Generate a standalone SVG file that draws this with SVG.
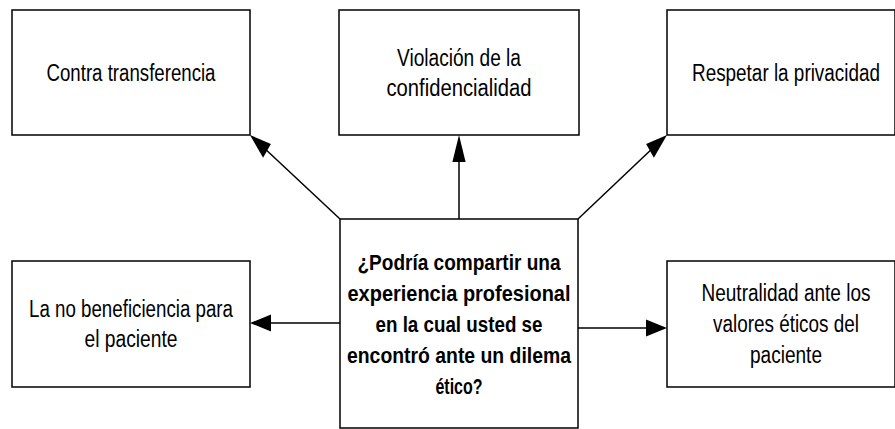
<svg xmlns="http://www.w3.org/2000/svg" width="895" height="429" viewBox="0 0 895 429">
<style>
.box{fill:#fff;stroke:#000;stroke-width:1.5}
.t{font-family:"Liberation Sans",Arial,sans-serif;font-size:23px;fill:#000;text-anchor:middle}
.b{font-family:"Liberation Sans",Arial,sans-serif;font-size:22px;font-weight:bold;fill:#000;text-anchor:middle}
.ln{stroke:#000;stroke-width:1.5;fill:none}
.ah{fill:#000;stroke:none}
</style>
<rect width="895" height="429" fill="#fff"/>
<g id="connectors">
<line class="ln" x1="459" y1="219" x2="459" y2="150"/>
<polygon class="ah" points="459,135 452.4,162 465.6,162"/>
<line class="ln" x1="340" y1="219" x2="262" y2="146"/>
<polygon class="ah" points="250,135 270.9,144 263.1,157.8"/>
<line class="ln" x1="578" y1="219" x2="655" y2="146"/>
<polygon class="ah" points="667,135 646.1,144 653.9,157.8"/>
<line class="ln" x1="340" y1="323" x2="265" y2="323"/>
<polygon class="ah" points="250,323 271,314.5 271,331.5"/>
<line class="ln" x1="578" y1="328" x2="652" y2="328"/>
<polygon class="ah" points="667,328 646,319.5 646,336.5"/>
</g>
<g id="n-contra">
<rect class="box" x="12" y="10" width="238" height="125"/>
<text class="t" x="131" y="81" textLength="169" lengthAdjust="spacingAndGlyphs">Contra transferencia</text>
</g>
<g id="n-violacion">
<rect class="box" x="339" y="10" width="240" height="125"/>
<text class="t" x="459" y="66" textLength="124" lengthAdjust="spacingAndGlyphs">Violación de la</text>
<text class="t" x="459" y="96" textLength="145" lengthAdjust="spacingAndGlyphs">confidencialidad</text>
</g>
<g id="n-respetar">
<rect class="box" x="667" y="10" width="228" height="125"/>
<text class="t" x="786" y="81" textLength="188" lengthAdjust="spacingAndGlyphs">Respetar la privacidad</text>
</g>
<g id="n-nobeneficiencia">
<rect class="box" x="12" y="261" width="238" height="126"/>
<text class="t" x="131" y="317" textLength="204" lengthAdjust="spacingAndGlyphs">La no beneficiencia para</text>
<text class="t" x="131" y="347" textLength="93" lengthAdjust="spacingAndGlyphs">el paciente</text>
</g>
<g id="n-centro">
<rect class="box" x="340" y="219" width="238" height="209"/>
<text class="b" x="459" y="270" textLength="203" lengthAdjust="spacingAndGlyphs">¿Podría compartir una</text>
<text class="b" x="459" y="301" textLength="223" lengthAdjust="spacingAndGlyphs">experiencia profesional</text>
<text class="b" x="459" y="332" textLength="167" lengthAdjust="spacingAndGlyphs">en la cual usted se</text>
<text class="b" x="459" y="363" textLength="224" lengthAdjust="spacingAndGlyphs">encontró ante un dilema</text>
<text class="b" x="459" y="394" textLength="47" lengthAdjust="spacingAndGlyphs">ético?</text>
</g>
<g id="n-neutralidad">
<rect class="box" x="667" y="261" width="228" height="126"/>
<text class="t" x="786" y="301" textLength="169" lengthAdjust="spacingAndGlyphs">Neutralidad ante los</text>
<text class="t" x="786" y="332" textLength="146" lengthAdjust="spacingAndGlyphs">valores éticos del</text>
<text class="t" x="786" y="363" textLength="72" lengthAdjust="spacingAndGlyphs">paciente</text>
</g>
</svg>
